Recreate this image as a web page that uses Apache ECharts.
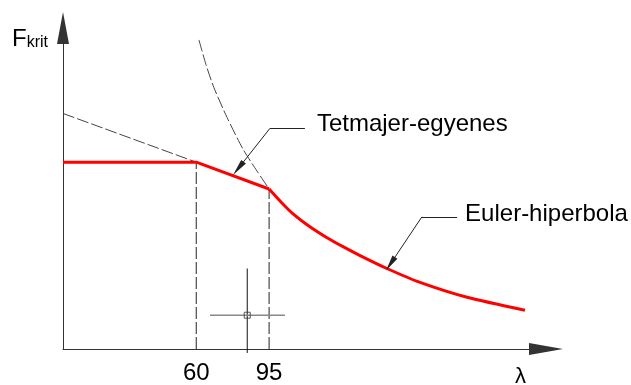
<!DOCTYPE html>
<html>
<head>
<meta charset="utf-8">
<script src="https://cdn.jsdelivr.net/npm/echarts@6/dist/echarts.min.js"></script>
<style>html,body{margin:0;padding:0;background:#fff;}#c{width:631px;height:385px;}</style>
</head>
<body>
<div id="c"></div>
<script>
// ---- data ----
const lambdaTicks = [60, 95];
const tickHeights = [188, 161];
const redLinX = [-4, 60, 95];
const redLinF = [188, 188, 161];
const eulerX = [95, 100.7, 106.5, 114.6, 122.8, 130.5, 138.7, 151.6, 167.5, 190.1, 217.9];
const eulerF = [161, 148, 136, 123, 112, 103, 94, 81, 67, 52, 39];
const eulerDashX = [61.3, 64.7, 68.5, 74.8, 82.5, 89.2, 95];
const eulerDashF = [311, 286, 263, 233, 201, 179, 161];
const tetDashX = [-4, 60];
const tetDashF = [237, 188];
const cursorX = [84.5, 84.5];
const cursorF = [-4, 81];
const cursorHX = [66.6, 102.6];
const cursorHF = [34, 34];
const tetLeaderX = [95.4, 112.2, 80.2];
const tetLeaderF = [222, 222, 181.7];
const eulLeaderX = [168.4, 185.3, 153.3];
const eulLeaderF = [133, 133, 85.7];
const labels = ['Tetmajer-egyenes', 'Euler-hiperbola'];

const zip = (xs, ys) => xs.map((x, i) => [x, ys[i]]);
const FONT = 'Liberation Sans, Arial, sans-serif';

const chart = echarts.init(document.getElementById('c'));
const dashStyle = { color: '#444', width: 1, type: [12, 3] };

const series = [
  { type: 'line', data: zip(tetDashX, tetDashF), symbol: 'none', lineStyle: dashStyle, silent: true },
  { type: 'line', data: zip(eulerDashX, eulerDashF), symbol: 'none', smooth: 0.25, lineStyle: dashStyle, silent: true },
];
lambdaTicks.forEach((t, i) => {
  series.push({ type: 'line', data: [[t, 0], [t, tickHeights[i]]], symbol: 'none',
    lineStyle: { color: '#222', width: 1, type: [12, 3] }, silent: true });
});
series.push(
  { type: 'line', data: zip(redLinX, redLinF), symbol: 'none', lineStyle: { color: '#ff0000', width: 3 }, z: 5 },
  { type: 'line', data: zip(eulerX, eulerF), symbol: 'none', smooth: 0.25, lineStyle: { color: '#ff0000', width: 3 }, z: 5 },
  { type: 'line', data: zip(cursorX, cursorF), symbol: 'none', clip: false, lineStyle: { color: '#111', width: 1 } },
  { type: 'line', data: zip(cursorHX, cursorHF), symbol: 'none', lineStyle: { color: '#888', width: 1.5 } },
  { type: 'scatter', data: [[cursorX[0], cursorHF[0]]], symbol: 'rect', symbolSize: 6,
    itemStyle: { color: 'rgba(255,255,255,0)', borderColor: '#333', borderWidth: 1 }, z: 6 },
  { type: 'lines', coordinateSystem: 'cartesian2d', z: 7,
    lineStyle: { color: '#222', width: 1, opacity: 1 },
    data: [
      { coords: [[tetLeaderX[0], tetLeaderF[0]], [tetLeaderX[1], tetLeaderF[1]]], symbol: ['none', 'none'] },
      { coords: [[tetLeaderX[0], tetLeaderF[0]], [tetLeaderX[2], tetLeaderF[2]]], symbol: ['none', 'triangle'], symbolSize: [[1, 1], [6, 17]] },
      { coords: [[eulLeaderX[0], eulLeaderF[0]], [eulLeaderX[1], eulLeaderF[1]]], symbol: ['none', 'none'] },
      { coords: [[eulLeaderX[0], eulLeaderF[0]], [eulLeaderX[2], eulLeaderF[2]]], symbol: ['none', 'triangle'], symbolSize: [[1, 1], [6, 16]] }
    ],
    itemStyle: { color: '#000' }
  }
);

chart.setOption({
  animation: false,
  grid: { left: 63, top: 28, width: 483, height: 323 },
  xAxis: {
    type: 'value', min: -4, max: 228,
    axisLine: { onZero: false, lineStyle: { color: '#333', width: 1 }, symbol: ['none', 'triangle'], symbolSize: [12, 34] },
    axisTick: { show: false },
    splitLine: { show: false },
    axisLabel: { customValues: lambdaTicks, fontSize: 24, color: '#000', fontFamily: FONT, margin: 12 }
  },
  yAxis: {
    type: 'value', min: 0, max: 323,
    axisLine: { onZero: false, lineStyle: { color: '#333', width: 1 }, symbol: ['none', 'triangle'], symbolSize: [12, 32] },
    axisTick: { show: false },
    splitLine: { show: false },
    axisLabel: { show: false }
  },
  series: series
});

// annotation texts anchored to the leader-line ends
const tEnd = chart.convertToPixel({ gridIndex: 0 }, [tetLeaderX[1], tetLeaderF[1]]);
const eEnd = chart.convertToPixel({ gridIndex: 0 }, [eulLeaderX[1], eulLeaderF[1]]);
chart.setOption({
  graphic: [
    { type: 'text', left: 12, top: 27, style: { text: '{a|F}{b|krit}', rich: {
        a: { fontSize: 24, fontFamily: FONT, color: '#000', verticalAlign: 'bottom', lineHeight: 24 },
        b: { fontSize: 16, fontFamily: FONT, color: '#000', verticalAlign: 'bottom', lineHeight: 24 } } } },
    { type: 'text', left: 515, top: 366, style: { text: 'λ', fontSize: 22, fontFamily: FONT, fill: '#000' } },
    { type: 'text', x: tEnd[0] + 12, y: tEnd[1] - 4, style: { text: labels[0], fontSize: 24, fontFamily: FONT, fill: '#000', verticalAlign: 'middle', align: 'left' } },
    { type: 'text', x: eEnd[0] + 8, y: eEnd[1] - 2, style: { text: labels[1], fontSize: 24, fontFamily: FONT, fill: '#000', verticalAlign: 'middle', align: 'left' } }
  ]
});
</script>
</body>
</html>
